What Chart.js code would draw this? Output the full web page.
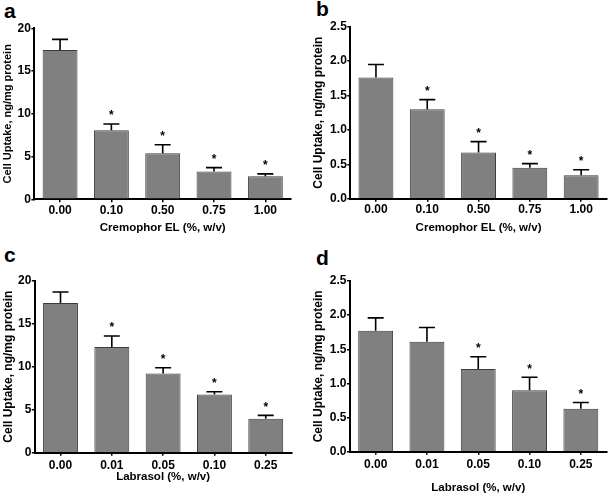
<!DOCTYPE html>
<html>
<head>
<meta charset="utf-8">
<script src="https://cdn.jsdelivr.net/npm/chart.js@4.4.1/dist/chart.umd.min.js"></script>
<style>
    body { margin: 0; background: #fff; width: 609px; height: 495px; position: relative; overflow: hidden; font-family: "Liberation Sans", Arial, sans-serif; }
    .panel { position: absolute; }
    .tag { position: absolute; font-weight: bold; font-size: 21px; line-height: 1; color: #000; }
</style>
</head>
<body>
<div class="tag" style="left:4px;top:0px">a</div>
<div class="tag" style="left:316px;top:-2px">b</div>
<div class="tag" style="left:4px;top:244px">c</div>
<div class="tag" style="left:316px;top:247px">d</div>
<div class="panel" style="left:0;top:0;width:300px;height:240px"><canvas id="chartA"></canvas></div>
<div class="panel" style="left:305px;top:0;width:304px;height:240px"><canvas id="chartB"></canvas></div>
<div class="panel" style="left:0;top:245px;width:300px;height:250px"><canvas id="chartC"></canvas></div>
<div class="panel" style="left:305px;top:245px;width:304px;height:250px"><canvas id="chartD"></canvas></div>
<script>
// x categories
const cremophorDoses = ["0.00", "0.10", "0.50", "0.75", "1.00"];
const labrasolDoses = ["0.00", "0.01", "0.05", "0.10", "0.25"];

// mean uptake and upper error (SD) per panel
const uptakeA = [17.45, 8.07, 5.38, 3.24, 2.69];
const errorA = [1.25, 0.74, 1.0, 0.46, 0.28];
const uptakeB = [1.76, 1.30, 0.67, 0.45, 0.34];
const errorB = [0.19, 0.14, 0.16, 0.06, 0.08];
const uptakeC = [17.40, 12.29, 9.22, 6.78, 3.95];
const errorC = [1.28, 1.28, 0.66, 0.31, 0.39];
const uptakeD = [1.77, 1.61, 1.21, 0.90, 0.63];
const errorD = [0.19, 0.21, 0.18, 0.19, 0.09];

// significance stars
const starsA = [false, true, true, true, true];
const starsB = [false, true, true, true, true];
const starsC = [false, true, true, true, true];
const starsD = [false, false, true, true, true];

const FONT = "'Liberation Sans', Arial, sans-serif";

// upper error bars + asterisks, placed through the y scale
const errorBars = {
    id: "errorBars",
    afterDatasetsDraw(chart, args, opts) {
        const ctx = chart.ctx;
        const y = chart.scales.y;
        const meta = chart.getDatasetMeta(0);
        ctx.save();
        ctx.strokeStyle = "#000";
        ctx.fillStyle = "#000";
        ctx.lineWidth = 1.6;
        ctx.font = "bold 12px " + FONT;
        ctx.textAlign = "center";
        ctx.textBaseline = "alphabetic";
        meta.data.forEach((bar, i) => {
            const top = y.getPixelForValue(opts.mean[i]);
            const cap = y.getPixelForValue(opts.mean[i] + opts.err[i]);
            ctx.beginPath();
            ctx.moveTo(bar.x, top);
            ctx.lineTo(bar.x, cap);
            ctx.moveTo(bar.x - 8, cap);
            ctx.lineTo(bar.x + 8, cap);
            ctx.stroke();
            if (opts.stars[i]) {
                ctx.fillText("*", bar.x, cap - 4.5);
            }
        });
        ctx.restore();
    }
};

function makeChart(id, p) {
    const ctx = document.getElementById(id).getContext("2d");
    new Chart(ctx, {
        type: "bar",
        data: {
            labels: p.labels,
            datasets: [{
                data: p.mean,
                backgroundColor: "#808080",
                borderColor: "#3c3c3c",
                borderWidth: 1,
                categoryPercentage: 1,
                barPercentage: 0.68
            }]
        },
        options: {
            responsive: true,
            maintainAspectRatio: false,
            animation: false,
            layout: { padding: { left: 0, top: p.top, right: p.right, bottom: 0 } },
            plugins: {
                legend: { display: false },
                tooltip: { enabled: false },
                errorBars: { mean: p.mean, err: p.err, stars: p.stars }
            },
            scales: {
                x: {
                    grid: { drawOnChartArea: false, offset: false, tickLength: 3, color: "#000", lineWidth: 1.5 },
                    border: { color: "#000", width: 2 },
                    ticks: { color: "#000", padding: p.xTickPad, font: { family: FONT, size: 12, weight: "bold" } },
                    title: {
                        display: true,
                        text: p.xTitle,
                        color: "#000",
                        padding: { top: 0, bottom: p.xTitlePad },
                        font: { family: FONT, size: 11.5, weight: "bold" }
                    },
                    afterFit: s => { s.height = p.xHeight; }
                },
                y: {
                    min: 0,
                    max: p.max,
                    grid: { drawOnChartArea: false, tickLength: 3, color: "#000", lineWidth: 1.5 },
                    border: { color: "#000", width: 2 },
                    ticks: {
                        stepSize: p.step,
                        padding: 0.5,
                        color: "#000",
                        font: { family: FONT, size: 12, weight: "bold" },
                        callback: v => p.step < 1 ? v.toFixed(1) : v
                    },
                    title: {
                        display: true,
                        text: "Cell Uptake, ng/mg protein",
                        color: "#000",
                        padding: { top: p.yTitlePad, bottom: 0 },
                        font: { family: FONT, size: p.yTitleSize, weight: "bold" }
                    },
                    afterFit: s => { s.width = p.left; }
                }
            }
        },
        plugins: [errorBars]
    });
}

document.addEventListener("DOMContentLoaded", () => {
    makeChart("chartA", {
        labels: cremophorDoses, mean: uptakeA, err: errorA, stars: starsA,
        xTitle: "Cremophor EL (%, w/v)", max: 20, step: 5,
        left: 34.4, right: 9, top: 28.3, xHeight: 40.7, xTickPad: 1, xTitlePad: 5.4, yTitlePad: 1.4, yTitleSize: 11
    });
    makeChart("chartB", {
        labels: cremophorDoses, mean: uptakeB, err: errorB, stars: starsB,
        xTitle: "Cremophor EL (%, w/v)", max: 2.5, step: 0.5,
        left: 45.3, right: 2.2, top: 26.7, xHeight: 41.3, xTickPad: 1, xTitlePad: 5.4, yTitlePad: 6.8, yTitleSize: 12
    });
    makeChart("chartC", {
        labels: labrasolDoses, mean: uptakeC, err: errorC, stars: starsC,
        xTitle: "Labrasol (%, w/v)", max: 20, step: 5,
        left: 34.85, right: 8.6, top: 35.7, xHeight: 42.3, xTickPad: 2.5, xTitlePad: 11.4, yTitlePad: 1.8, yTitleSize: 12
    });
    makeChart("chartD", {
        labels: labrasolDoses, mean: uptakeD, err: errorD, stars: starsD,
        xTitle: "Labrasol (%, w/v)", max: 2.5, step: 0.5,
        left: 45, right: 2.5, top: 36, xHeight: 43.3, xTickPad: 2.5, xTitlePad: 0, yTitlePad: 6.8, yTitleSize: 12
    });
});
</script>
</body>
</html>
